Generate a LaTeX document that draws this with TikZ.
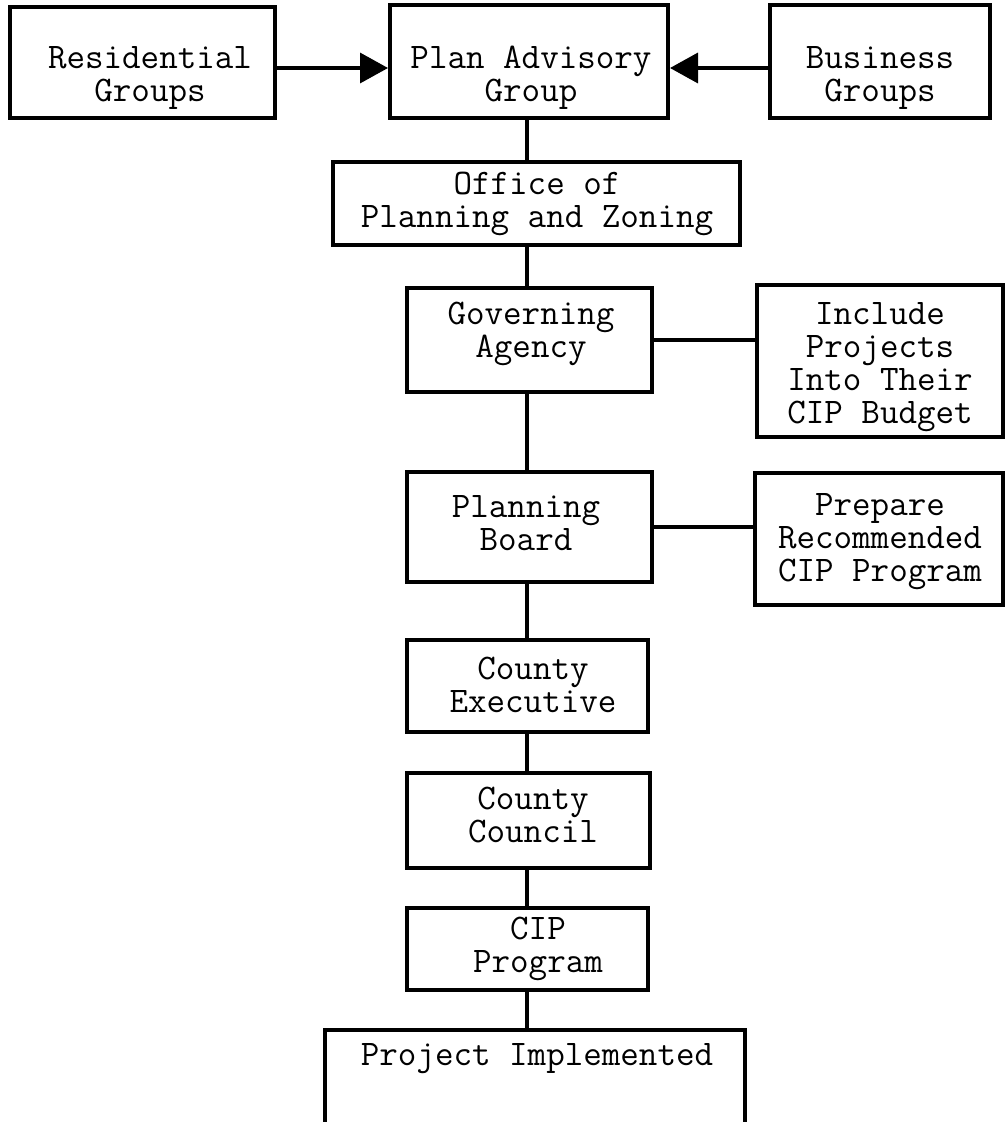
\documentclass[tikz,border=0pt]{standalone}
\usepackage{fontspec}
\usetikzlibrary{arrows.meta}
\begin{document}
\begin{tikzpicture}[x=1pt,y=-1pt,
  box/.style={draw=black,line width=4pt,rectangle,inner sep=0pt},
  txt/.style={inner sep=0pt,align=center,
    font=\ttfamily\addfontfeatures{FakeBold=2}\fontsize{36}{33}\selectfont},
  conn/.style={draw=black,line width=3.5pt},
  arr/.style={conn,-{Triangle[length=28pt,width=30pt]}}]
\useasboundingbox[fill=white] (0,0) rectangle (1005,1122);
% boxes
\node[box,minimum width=265pt,minimum height=111pt] (res) at (142.5,62.5) {};
\node[box,minimum width=278pt,minimum height=113pt] (pag) at (529,61.5) {};
\node[box,minimum width=220pt,minimum height=113pt] (bus) at (880,61.5) {};
\node[box,minimum width=407pt,minimum height=83pt] (opz) at (536.5,203.5) {};
\node[box,minimum width=245pt,minimum height=104pt] (gov) at (529.5,340) {};
\node[box,minimum width=246pt,minimum height=152pt] (inc) at (880,361) {};
\node[box,minimum width=245pt,minimum height=110pt] (pb) at (529.5,527) {};
\node[box,minimum width=248pt,minimum height=132pt] (prep) at (879,539) {};
\node[box,minimum width=241pt,minimum height=92pt] (ce) at (527.5,686) {};
\node[box,minimum width=243pt,minimum height=95pt] (cc) at (528.5,820.5) {};
\node[box,minimum width=241pt,minimum height=82pt] (cip) at (527.5,949) {};
\node[inner sep=0pt,minimum width=420pt,minimum height=92pt] (proj) at (535,1076) {};
\draw[line width=4pt] (proj.south west) -- (proj.north west) -- (proj.north east) -- (proj.south east);
% texts
\node[txt] (rest) at (150,78) {Residential\\Groups};
\node[txt] (pagt) at (531,78) {Plan Advisory\\Group};
\node[txt] (bust) at (880,78) {Business\\Groups};
\node[txt] (opzt) at (537,204) {Office of\\Planning and Zoning};
\node[txt] (govt) at (531,334) {Governing\\Agency};
\node[txt] (inct) at (880,367) {Include\\Projects\\Into Their\\CIP Budget};
\node[txt] (pbt) at (526,523) {Planning\\Board};
\node[txt] (prept) at (880,542) {Prepare\\Recommended\\CIP Program};
\node[txt] (cet) at (533,685) {County\\Executive};
\node[txt] (cct) at (533,815) {County\\Council};
\node[txt] (cipt) at (538,949) {CIP\\Program};
\node[txt] (projt) at (537,1059) {Project Implemented};
% connectors
\coordinate (spine) at (527,0);
\draw[arr] (res.east |- 0,68) -- (pag.west |- 0,68);
\draw[arr] (bus.west |- 0,68) -- (pag.east |- 0,68);
\draw[conn] (pag.south -| spine) -- (opz.north -| spine);
\draw[conn] (opz.south -| spine) -- (gov.north -| spine);
\draw[conn] (gov.south -| spine) -- (pb.north -| spine);
\draw[conn] (pb.south -| spine) -- (ce.north -| spine);
\draw[conn] (ce.south -| spine) -- (cc.north -| spine);
\draw[conn] (cc.south -| spine) -- (cip.north -| spine);
\draw[conn] (cip.south -| spine) -- (proj.north -| spine);
\draw[conn] (gov.east |- 0,340) -- (inc.west |- 0,340);
\draw[conn] (pb.east |- 0,527) -- (prep.west |- 0,527);
\end{tikzpicture}
\end{document}
